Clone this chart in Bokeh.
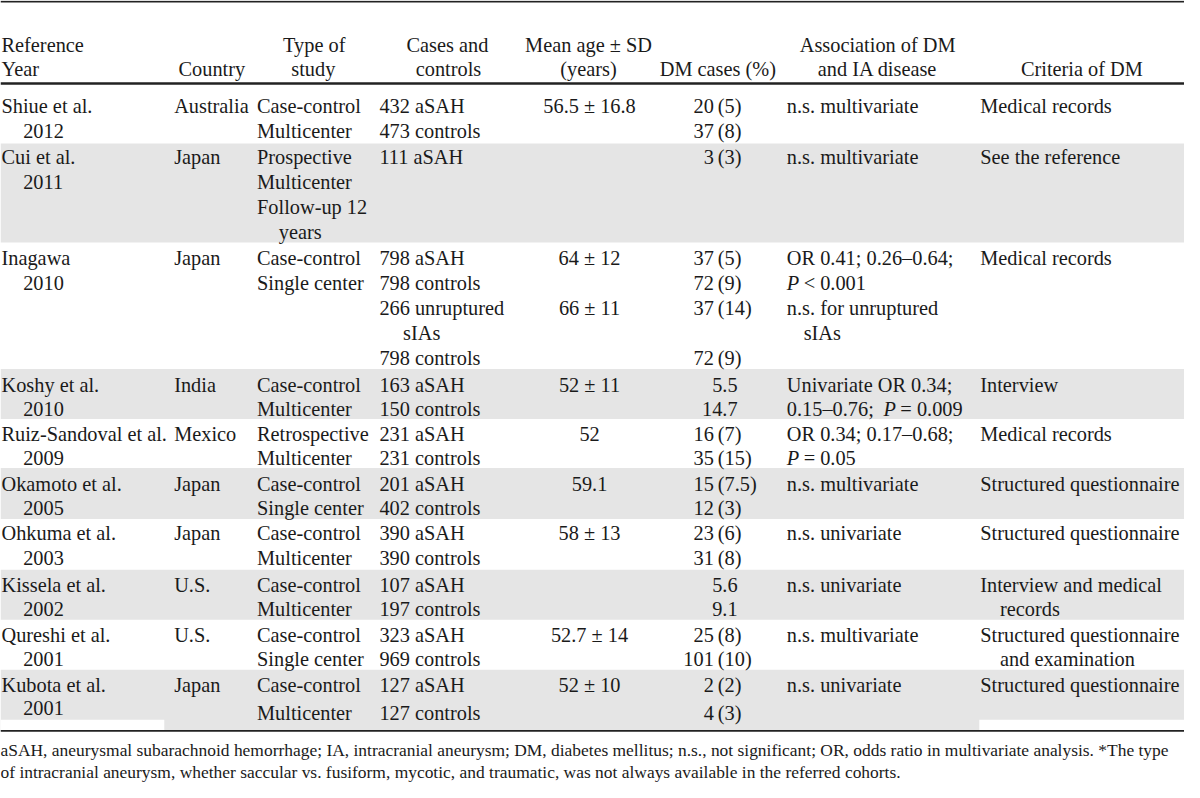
from bokeh.plotting import figure
from bokeh.models import Range1d
from bokeh.embed import file_html
from bokeh.resources import INLINE
from bokeh.core.properties import value

# ---------------- data ----------------
header_top = ["Reference", "Type of", "Cases and", "Mean age \u00b1 SD", "Association of DM"]
header_bottom = ["Year", "Country", "study", "controls", "(years)", "DM cases (%)", "and IA disease", "Criteria of DM"]

references = ["Shiue et al.", "Cui et al.", "Inagawa", "Koshy et al.", "Ruiz-Sandoval et al.",
              "Okamoto et al.", "Ohkuma et al.", "Kissela et al.", "Qureshi et al.", "Kubota et al."]
years = ["2012", "2011", "2010", "2010", "2009", "2005", "2003", "2002", "2001", "2001"]
countries = ["Australia", "Japan", "Japan", "India", "Mexico", "Japan", "Japan", "U.S.", "U.S.", "Japan"]
study_types = [
    ["Case-control", "Multicenter"],
    ["Prospective", "Multicenter", "Follow-up 12", "  years"],
    ["Case-control", "Single center"],
    ["Case-control", "Multicenter"],
    ["Retrospective", "Multicenter"],
    ["Case-control", "Single center"],
    ["Case-control", "Multicenter"],
    ["Case-control", "Multicenter"],
    ["Case-control", "Single center"],
    ["Case-control", "Multicenter"],
]
cases_controls = [
    ["432 aSAH", "473 controls"],
    ["111 aSAH"],
    ["798 aSAH", "798 controls", "266 unruptured", "  sIAs", "798 controls"],
    ["163 aSAH", "150 controls"],
    ["231 aSAH", "231 controls"],
    ["201 aSAH", "402 controls"],
    ["390 aSAH", "390 controls"],
    ["107 aSAH", "197 controls"],
    ["323 aSAH", "969 controls"],
    ["127 aSAH", "127 controls"],
]
mean_age = [["56.5 \u00b1 16.8"], [], ["64 \u00b1 12", "", "66 \u00b1 11"], ["52 \u00b1 11"], ["52"],
            ["59.1"], ["58 \u00b1 13"], [], ["52.7 \u00b1 14"], ["52 \u00b1 10"]]
dm_cases = [["20 (5)", "37 (8)"], ["3 (3)"], ["37 (5)", "72 (9)", "37 (14)", "", "72 (9)"],
            ["5.5", "14.7"], ["16 (7)", "35 (15)"], ["15 (7.5)", "12 (3)"], ["23 (6)", "31 (8)"],
            ["5.6", "9.1"], ["25 (8)", "101 (10)"], ["2 (2)", "4 (3)"]]
association = [
    ["n.s. multivariate"],
    ["n.s. multivariate"],
    ["OR 0.41; 0.26\u20130.64;", "_P_ < 0.001", "n.s. for unruptured", "  sIAs"],
    ["Univariate OR 0.34;", "0.15\u20130.76; _P_ = 0.009"],
    ["OR 0.34; 0.17\u20130.68;", "_P_ = 0.05"],
    ["n.s. multivariate"],
    ["n.s. univariate"],
    ["n.s. univariate"],
    ["n.s. multivariate"],
    ["n.s. univariate"],
]
criteria = [
    ["Medical records"], ["See the reference"], ["Medical records"], ["Interview"],
    ["Medical records"], ["Structured questionnaire"], ["Structured questionnaire"],
    ["Interview and medical", "  records"], ["Structured questionnaire", "  and examination"],
    ["Structured questionnaire"],
]
footnote = [
    "aSAH, aneurysmal subarachnoid hemorrhage; IA, intracranial aneurysm; DM, diabetes mellitus; n.s., not significant; OR, odds ratio in multivariate analysis. *The type",
    "of intracranial aneurysm, whether saccular vs. fusiform, mycotic, and traumatic, was not always available in the referred cohorts.",
]

# ---------------- layout ----------------
W, H = 1184, 782
KX = W / 1200.0
FS = 20.6 * KX
FS_NOTE = 17.7 * KX
FONT = "Liberation Serif"
TXT = "#1a1a1a"
GRAY = "#e5e5e5"

row_tops = [86, 146, 247, 376, 427, 477, 529, 581, 632, 683]
table_bottom = 745.5
first_line = [108, 160, 263, 392, 442, 493, 543, 596, 647, 698]
steps = [25.5, 25.3, 25.5, 25, 25, 25, 26, 25, 25, 29.5]
ref_steps = [25.5, 25.3, 25.5, 25, 25, 25, 26, 25, 25, 24]

X_REF, X_COUNTRY, X_TYPE, X_CASES = 1, 176, 260, 384
X_AGE = 597
X_DM_NUM, X_DM_PAR, X_DM_PLAIN = 723, 727, 747
X_ASSOC, X_CRIT = 797, 993
P_AFTER_PREFIX = 98    # where the italic P sits after a "0.15–0.76; " prefix
P_TO_REST = 17         # gap from italic P start to the following relation

items = []


def add(x, y, t, align="left", style="normal", size=FS):
    items.append((x, y, t, align, style, size))


def add_lines(x, row, lines, indent=20, step=None):
    st = steps[row] if step is None else step
    for k, s in enumerate(lines):
        if not s:
            continue
        y = first_line[row] + k * st
        xx = x
        if s.startswith("  "):
            s = s[2:]
            xx = x + indent
        if "_P_" in s:
            pre, post = s.split("_P_")
            pre = pre.strip()
            if pre:
                add(xx, y, pre)
            px = xx + (P_AFTER_PREFIX if pre else 0)
            add(px, y, "P", style="italic")
            add(px + P_TO_REST, y, post.strip())
        else:
            add(xx, y, s)


p = figure(width=W, height=H, x_range=Range1d(0, 1200), y_range=Range1d(798, 0),
           output_backend="svg", toolbar_location=None, min_border=0,
           background_fill_color="white", border_fill_color="white", outline_line_color=None)
p.xaxis.visible = False
p.yaxis.visible = False
p.xgrid.visible = False
p.ygrid.visible = False

# shaded bands
bottoms = row_tops[1:] + [table_bottom]
sh_l, sh_r, sh_t, sh_b = [], [], [], []
for i in range(len(references)):
    if i % 2 == 1:
        sh_l.append(0); sh_r.append(1200); sh_t.append(row_tops[i]); sh_b.append(bottoms[i])
p.quad(left=sh_l, right=sh_r, top=sh_t, bottom=sh_b, fill_color=GRAY, line_color=None)
# white notches at foot of last band
p.quad(left=[0, X_CRIT - 1], right=[166, 1200], top=[734, 734], bottom=[table_bottom, table_bottom],
       fill_color="white", line_color=None)

# rules
p.quad(left=[0, 0, 0], right=[1200, 1200, 1200], top=[0.3, 83.3, 744.3], bottom=[2.0, 86.0, 746.2],
       fill_color="#222222", line_color=None)

# header
hx_top = [(X_REF, "left"), (318, "center"), (453, "center"), (596, "center"), (889, "center")]
for (x, al), t in zip(hx_top, header_top):
    add(x, 45, t, al)
hx_bot = [(X_REF, "left"), (248, "right"), (317, "center"), (454, "center"), (596, "center"),
          (786, "right"), (889, "center"), (1096, "center")]
for (x, al), t in zip(hx_bot, header_bottom):
    add(x, 70, t, al)

# body
for i in range(len(references)):
    add(X_REF, first_line[i], references[i])
    add(X_REF + 22, first_line[i] + ref_steps[i], years[i])
    add(X_COUNTRY, first_line[i], countries[i])
    add_lines(X_TYPE, i, study_types[i], indent=22)
    add_lines(X_CASES, i, cases_controls[i], indent=24)
    for k, s in enumerate(mean_age[i]):
        if s:
            add(X_AGE, first_line[i] + k * steps[i], s, "center")
    for k, s in enumerate(dm_cases[i]):
        if not s:
            continue
        y = first_line[i] + k * steps[i]
        if "(" in s:
            num, par = s.split(" (", 1)
            add(X_DM_NUM, y, num, "right")
            add(X_DM_PAR, y, "(" + par)
        else:
            add(X_DM_PLAIN, y, s, "right")
    add_lines(X_ASSOC, i, association[i], indent=17)
    add_lines(X_CRIT, i, criteria[i], indent=20)

# footnote
for k, s in enumerate(footnote):
    add(0, 765 + k * 22, s, size=FS_NOTE)

groups = {}
for x, y, t, al, st, sz in items:
    groups.setdefault((al, st, sz), ([], [], []))
    g = groups[(al, st, sz)]
    g[0].append(x); g[1].append(y); g[2].append(t)
for (al, st, sz), (xs, ys, ts) in groups.items():
    p.text(x=xs, y=ys, text=ts, text_align=al, text_baseline="middle", text_font=value(FONT),
           text_font_style=st, text_font_size=f"{sz:.2f}px", text_color=TXT)

open("out.html", "w").write(file_html(p, INLINE))
